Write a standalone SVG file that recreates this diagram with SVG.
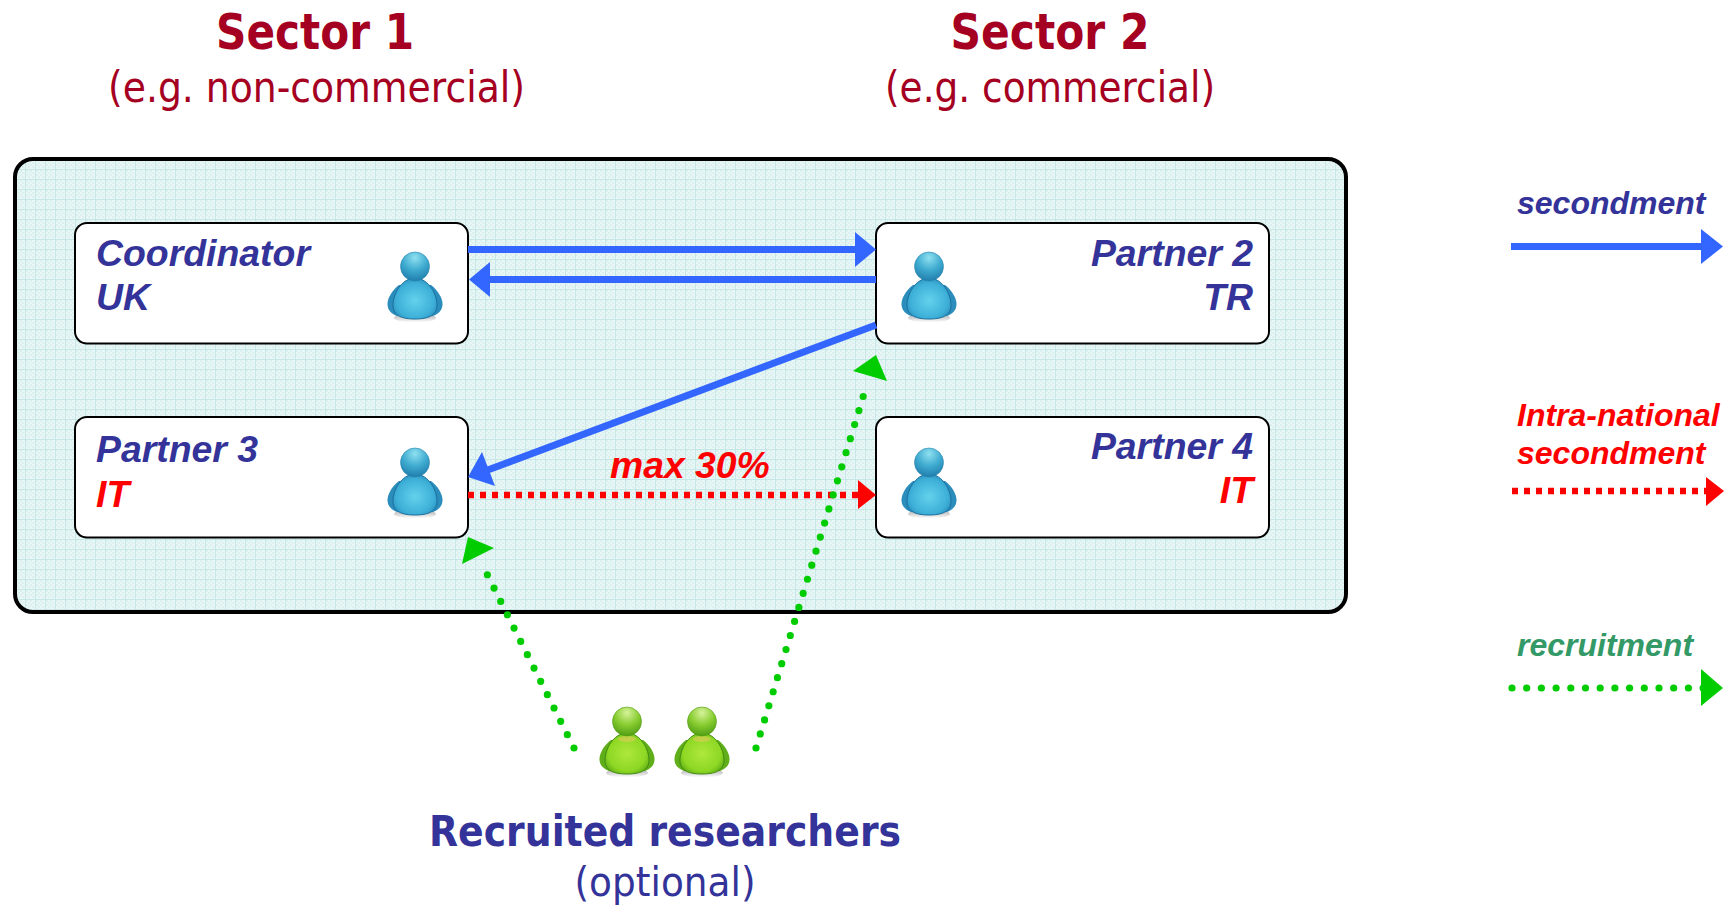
<svg xmlns="http://www.w3.org/2000/svg" xmlns:xlink="http://www.w3.org/1999/xlink" width="1731" height="906" viewBox="0 0 1731 906">
<style>
text{font-family:"Liberation Sans",Arial,sans-serif}
.h1{font-family:"DejaVu Sans",sans-serif;font-weight:700;font-size:49px;fill:#a50021;text-anchor:middle}
.h2{font-family:"DejaVu Sans",sans-serif;font-size:42px;fill:#a50021;text-anchor:middle}
.r1{font-family:"DejaVu Sans",sans-serif;font-weight:700;font-size:42px;fill:#333399;text-anchor:middle}
.r2{font-family:"DejaVu Sans",sans-serif;font-size:41px;fill:#333399;text-anchor:middle}
.n{font-weight:700;font-style:italic;font-size:37.400px;fill:#333399}
.l{font-weight:700;font-style:italic;font-size:32px;fill:#333399}
.n.red,.l.red{fill:#ff0000}
.e{text-anchor:end}
.box{fill:#fff;stroke:#000;stroke-width:2}
.blue{stroke:#3366ff;stroke-width:7;fill:none}
.rd{stroke:#ff0000;stroke-width:6.500;stroke-dasharray:6 6;fill:none}
.gr{stroke:#00cc00;stroke-width:7.200;stroke-linecap:round;stroke-dasharray:0 14.700;fill:none}
.hb{fill:#3366ff}.hr{fill:#ff0000}.hg{fill:#00cc00}
</style>
<defs>
<pattern id="grid" width="10" height="10" patternUnits="userSpaceOnUse" x="16" y="160">
<rect width="10" height="10" fill="#e8f6f6"/>
<path d="M0 0h2v2H0zM4 0h2v2H4zM2 2h2v2H2zM6 2h2v2H6zM0 4h2v2H0zM4 4h2v2H4zM2 6h2v2H2zM6 6h2v2H6z" fill="#dcf0f0"/>
<path d="M9.500 0V10M0 9.500H10" stroke="#c6e7e8" stroke-width="1"/>
</pattern>
<radialGradient id="bh" cx=".5" cy=".2" r=".85"><stop offset="0" stop-color="#8fe0f0"/><stop offset=".5" stop-color="#3fabd0"/><stop offset="1" stop-color="#1d78a8"/></radialGradient>
<radialGradient id="bb" cx=".5" cy=".55" r=".65"><stop offset="0" stop-color="#62d2ec"/><stop offset=".65" stop-color="#3eb0d8"/><stop offset="1" stop-color="#1f7fb0"/></radialGradient>
<radialGradient id="gh" cx=".5" cy=".2" r=".85"><stop offset="0" stop-color="#d6f29a"/><stop offset=".5" stop-color="#88cd30"/><stop offset="1" stop-color="#4a9712"/></radialGradient>
<radialGradient id="gb" cx=".5" cy=".5" r=".65"><stop offset="0" stop-color="#aee83c"/><stop offset=".65" stop-color="#8ed824"/><stop offset="1" stop-color="#4f9c10"/></radialGradient>
<linearGradient id="sh" x1="0" y1="0" x2="0" y2="1"><stop offset="0" stop-color="#666" stop-opacity=".6"/><stop offset="1" stop-color="#777" stop-opacity="0"/></linearGradient>
<symbol id="pb" viewBox="0 0 60 71" width="60" height="71" overflow="visible">
<ellipse cx="30" cy="66" rx="21" ry="4.500" fill="url(#sh)"/>
<path d="M14 33C7 38 2 47 2.500 53C3 59 7 62 12 64H48C53 62 57 59 57.500 53C58 47 53 38 46 33Z" fill="#2a8dbc"/>
<path d="M30 26C19 26 9 38 8 52C7.500 62 14 67 30 67C46 67 52.500 62 52 52C51 38 41 26 30 26Z" fill="url(#bb)" stroke="#1c709f" stroke-width="1"/>
<circle cx="30" cy="14.500" r="14.500" fill="url(#bh)" stroke="#2a85b0" stroke-width=".6"/>
</symbol>
<symbol id="pg" viewBox="0 0 60 71" width="60" height="71" overflow="visible">
<ellipse cx="30" cy="66" rx="21" ry="4.500" fill="url(#sh)"/>
<path d="M14 33C7 38 2 47 2.500 53C3 59 7 62 12 64H48C53 62 57 59 57.500 53C58 47 53 38 46 33Z" fill="#5fae1a"/>
<path d="M30 26C19 26 9 38 8 52C7.500 62 14 67 30 67C46 67 52.500 62 52 52C51 38 41 26 30 26Z" fill="url(#gb)" stroke="#3f8a0e" stroke-width="1"/>
<ellipse cx="30" cy="32" rx="9" ry="3" fill="#e8c860" opacity=".55"/>
<circle cx="30" cy="14.500" r="14.500" fill="url(#gh)" stroke="#4f9c10" stroke-width=".6"/>
</symbol>
</defs>
<g id="sector-labels">
<text class="h1" x="315" y="49" textLength="198" lengthAdjust="spacingAndGlyphs">Sector 1</text>
<text class="h2" x="316.500" y="102" textLength="417" lengthAdjust="spacingAndGlyphs">(e.g. non-commercial)</text>
<text class="h1" x="1050" y="49" textLength="199" lengthAdjust="spacingAndGlyphs">Sector 2</text>
<text class="h2" x="1050" y="102" textLength="330" lengthAdjust="spacingAndGlyphs">(e.g. commercial)</text>
</g>
<rect id="consortium" x="15" y="159" width="1331" height="453" rx="18" fill="url(#grid)" stroke="#000" stroke-width="4"/>
<g id="coordinator">
<rect class="box" x="75" y="223" width="393" height="120.500" rx="12"/>
<text class="n" x="96" y="266">Coordinator</text>
<text class="n" x="96" y="310">UK</text>
<use xlink:href="#pb" x="385" y="252"/>
</g>
<g id="partner2">
<rect class="box" x="876" y="223" width="393" height="120.500" rx="12"/>
<text class="n e" x="1253" y="266">Partner 2</text>
<text class="n e" x="1253" y="310">TR</text>
<use xlink:href="#pb" x="899" y="252"/>
</g>
<g id="partner3">
<rect class="box" x="75" y="417" width="393" height="120.500" rx="12"/>
<text class="n" x="96" y="462">Partner 3</text>
<text class="n red" x="96" y="507">IT</text>
<use xlink:href="#pb" x="385" y="448"/>
</g>
<g id="partner4">
<rect class="box" x="876" y="417" width="393" height="120.500" rx="12"/>
<text class="n e" x="1253" y="459">Partner 4</text>
<text class="n e red" x="1253" y="503">IT</text>
<use xlink:href="#pb" x="899" y="448"/>
</g>
<g id="recruited">
<use xlink:href="#pg" x="597" y="707"/>
<use xlink:href="#pg" x="672" y="707"/>
<text class="r1" x="665" y="846" textLength="472" lengthAdjust="spacingAndGlyphs">Recruited researchers</text>
<text class="r2" x="665" y="896" textLength="181" lengthAdjust="spacingAndGlyphs">(optional)</text>
</g>
<g id="connectors">
<path class="blue" d="M468 249.500H860"/><path class="hb" d="M876 249.500L855 232V267Z"/>
<path class="blue" d="M876 279.500H485"/><path class="hb" d="M469 279.500L490 262V297Z"/>
<path class="blue" d="M876 325L485 471"/><path class="hb" d="M468 477L482 452L495 486Z"/>
<path class="rd" d="M468 495H860"/><path class="hr" d="M876 495L858 480V509Z"/>
<text class="n red" x="610" y="478" style="font-size:37.300px">max 30%</text>
<path class="gr" d="M574 748L481 562" style="stroke-dasharray:0 14.900"/><path class="hg" d="M468 537L462 564L494 548Z"/>
<path class="gr" d="M756 748L867 384"/><path class="hg" d="M876 355L853 371L887 381Z"/>
</g>
<g id="legend">
<text class="l" x="1517" y="214">secondment</text>
<path class="blue" d="M1511 246.500H1705"/><path class="hb" d="M1723 246.500L1701 229V264Z"/>
<text class="l red" x="1517" y="426">Intra-national</text>
<text class="l red" x="1517" y="464">secondment</text>
<path class="rd" d="M1512 491H1708"/><path class="hr" d="M1724 491L1706 477V506Z"/>
<text class="l" x="1517" y="656" style="fill:#339966">recruitment</text>
<path class="gr" d="M1512 688H1704"/><path class="hg" d="M1723 688L1701 669V706Z"/>
</g>
</svg>
